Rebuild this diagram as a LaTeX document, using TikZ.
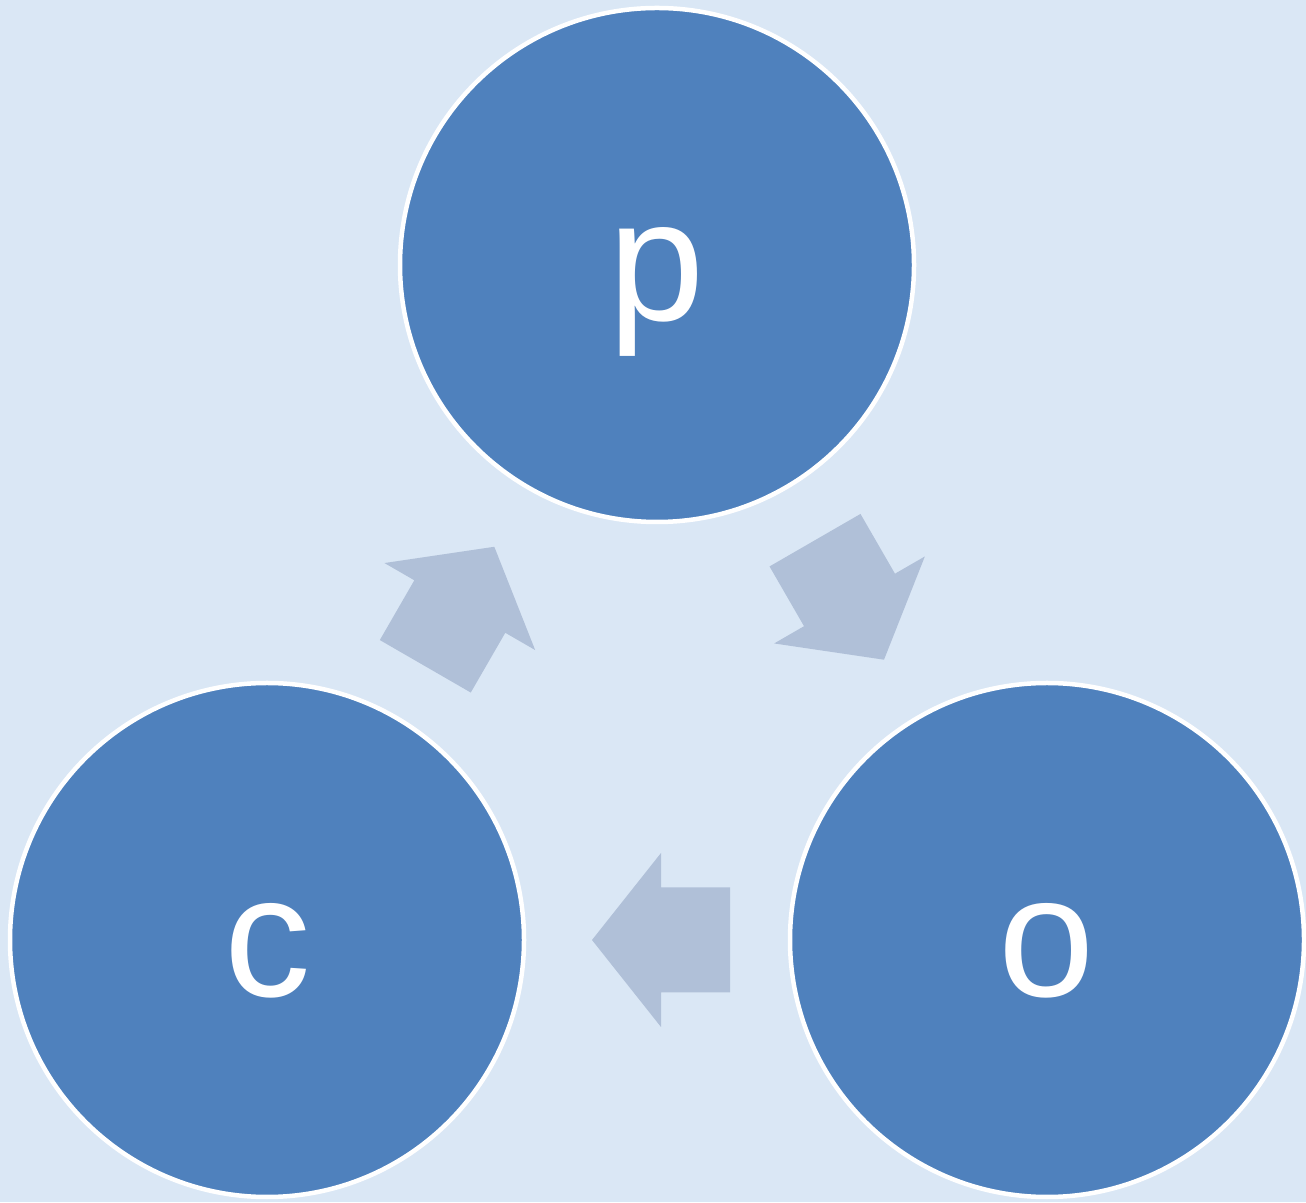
\documentclass[tikz,border=0pt]{standalone}
\usepackage{fontspec}
\setmainfont{Liberation Sans}
\definecolor{bgblue}{HTML}{DAE7F5}
\definecolor{circblue}{HTML}{4F81BD}
\definecolor{arrowgray}{HTML}{B0C0D8}
\begin{document}
\begin{tikzpicture}[x=1pt,y=1pt,
  circ/.style={circle,fill=circblue,draw=white,line width=4.5pt,minimum size=514pt,inner sep=0pt},
  lbl/.style={text=white,font=\fontsize{173}{190}\selectfont,anchor=base,inner sep=0pt},
  blockarrow/.style={fill=arrowgray,draw=none}]
\useasboundingbox (0,0) rectangle (1306,1202);
\fill[bgblue] (0,0) rectangle (1306,1202);
% circles
\node[circ] (P) at (657,937) {};
\node[circ] (C) at (267,262) {};
\node[circ] (O) at (1047,262) {};
\node[lbl] (Pl) at (657,881) {p};
\node[lbl] (Cl) at (268,205) {c};
\node[lbl] (Ol) at (1047,205) {o};
% block arrows: x, y (tail centre), angle
\newcommand{\blockarr}[3]{%
  \fill[blockarrow,shift={(#1,#2)},rotate=#3]
    (0,-52.5) -- (69,-52.5) -- (69,-87) -- (138,0) -- (69,87) -- (69,52.5) -- (0,52.5) -- cycle;}
\blockarr{425.3}{535.7}{60}
\blockarr{815}{661.8}{-60}
\blockarr{730}{262}{180}
\end{tikzpicture}
\end{document}
